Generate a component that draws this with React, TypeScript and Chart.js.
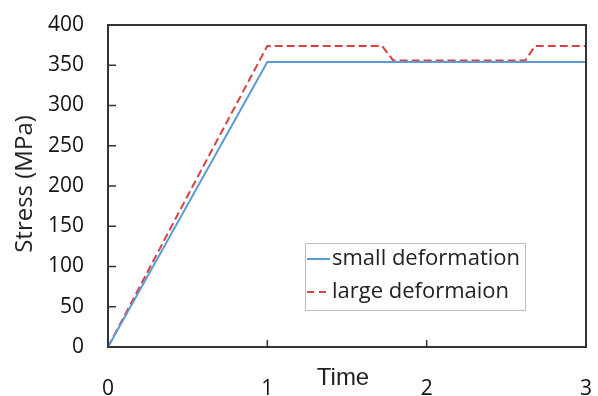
import React, { useEffect, useRef } from "react";
import { Chart, registerables } from "chart.js";

Chart.register(...registerables);

const timeSmall = [0, 1, 3];
const stressSmall = [0, 354, 354];
const timeLarge = [0, 0.5, 1, 1.72, 1.79, 2.62, 2.68, 3];
const stressLarge = [0, 188, 374, 374, 356, 356, 374, 374];
const xTicks = [0, 1, 2, 3];
const yTicks = [0, 50, 100, 150, 200, 250, 300, 350, 400];
const seriesLabels = ["small deformation", "large deformaion"];

const BLUE = "#5b9bd5";
const RED = "#d9413f";
const AXIS = "#333333";
const TICKFONT = "'Open Sans', sans-serif";

const framePlugin = {
  id: "frame",
  afterDraw(chart: any) {
    const { ctx, chartArea: a, scales } = chart;
    ctx.save();
    ctx.strokeStyle = AXIS;
    ctx.lineWidth = 2;
    ctx.beginPath();
    ctx.moveTo(a.left, a.top);
    ctx.lineTo(a.right, a.top);
    ctx.lineTo(a.right, a.bottom);
    ctx.stroke();
    ctx.lineWidth = 1.5;
    ctx.beginPath();
    yTicks.forEach((v) => {
      const y = scales.y.getPixelForValue(v);
      ctx.moveTo(a.left, y);
      ctx.lineTo(a.left + 8, y);
    });
    xTicks.forEach((v) => {
      const x = scales.x.getPixelForValue(v);
      ctx.moveTo(x, a.bottom);
      ctx.lineTo(x, a.bottom - 7);
    });
    ctx.stroke();
    ctx.fillStyle = "#222";
    ctx.font = "24px 'Liberation Sans', Arial, sans-serif";
    ctx.textAlign = "center";
    ctx.textBaseline = "middle";
    ctx.fillText("Time", a.left + 235, a.bottom + 31);
    ctx.save();
    ctx.translate(25, (a.top + a.bottom) / 2 - 2);
    ctx.rotate(-Math.PI / 2);
    ctx.font = `24px ${TICKFONT}`;
    ctx.fillText("Stress (MPa)", 0, 0);
    ctx.restore();
    const lx = a.left + 197;
    const ly = a.top + 218;
    const lw = 220;
    const lh = 67;
    ctx.fillStyle = "#fff";
    ctx.fillRect(lx, ly, lw, lh);
    ctx.strokeStyle = "#bfbfbf";
    ctx.lineWidth = 1;
    ctx.strokeRect(lx + 0.5, ly + 0.5, lw, lh);
    ctx.font = `22px ${TICKFONT}`;
    ctx.textAlign = "left";
    ctx.fillStyle = "#222";
    const rows = [
      { y: ly + 16, color: BLUE, dash: [] as number[] },
      { y: ly + 49, color: RED, dash: [7, 5] },
    ];
    rows.forEach((r, i) => {
      ctx.strokeStyle = r.color;
      ctx.lineWidth = 2;
      ctx.setLineDash(r.dash);
      ctx.beginPath();
      ctx.moveTo(lx + 2, r.y);
      ctx.lineTo(lx + 25, r.y);
      ctx.stroke();
      ctx.setLineDash([]);
      ctx.fillText(seriesLabels[i], lx + 27, r.y);
    });
    ctx.restore();
  },
};

export default function App() {
  const ref = useRef<HTMLCanvasElement>(null);
  useEffect(() => {
    const chart = new Chart(ref.current as HTMLCanvasElement, {
      type: "line",
      data: {
        datasets: [
          {
            label: seriesLabels[0],
            data: timeSmall.map((t, i) => ({ x: t, y: stressSmall[i] })),
            borderColor: BLUE,
            borderWidth: 2,
            pointRadius: 0,
            fill: false,
          },
          {
            label: seriesLabels[1],
            data: timeLarge.map((t, i) => ({ x: t, y: stressLarge[i] })),
            borderColor: RED,
            borderWidth: 2,
            borderDash: [8, 4],
            pointRadius: 0,
            fill: false,
          },
        ],
      },
      options: {
        animation: false,
        responsive: false,
        layout: { padding: { top: 25, right: 12, left: 0, bottom: 0 } },
        plugins: { legend: { display: false }, tooltip: { enabled: false } },
        scales: {
          x: {
            type: "linear",
            min: 0,
            max: 3,
            afterFit: (s: any) => {
              s.height = 49;
              s.paddingLeft = 0;
              s.paddingRight = 0;
            },
            afterBuildTicks: (s: any) => {
              s.ticks = xTicks.map((v) => ({ value: v }));
            },
            ticks: {
              padding: 29,
              color: "#111",
              font: { family: TICKFONT, size: 21 },
              maxRotation: 0,
            },
            grid: { display: false, drawTicks: false },
            border: { display: true, color: AXIS, width: 2 },
          },
          y: {
            min: 0,
            max: 400,
            afterFit: (s: any) => {
              s.width = 108;
              s.paddingTop = 0;
              s.paddingBottom = 0;
            },
            afterBuildTicks: (s: any) => {
              s.ticks = yTicks.map((v) => ({ value: v }));
            },
            ticks: {
              padding: 24,
              color: "#111",
              font: { family: TICKFONT, size: 21 },
            },
            grid: { display: false, drawTicks: false },
            border: { display: true, color: AXIS, width: 2 },
          },
        },
      },
      plugins: [framePlugin],
    });
    return () => chart.destroy();
  }, []);
  return (
    <div style={{ position: "fixed", left: 0, top: 0, background: "#fff" }}>
      <canvas ref={ref} width={598} height={396} />
    </div>
  );
}
